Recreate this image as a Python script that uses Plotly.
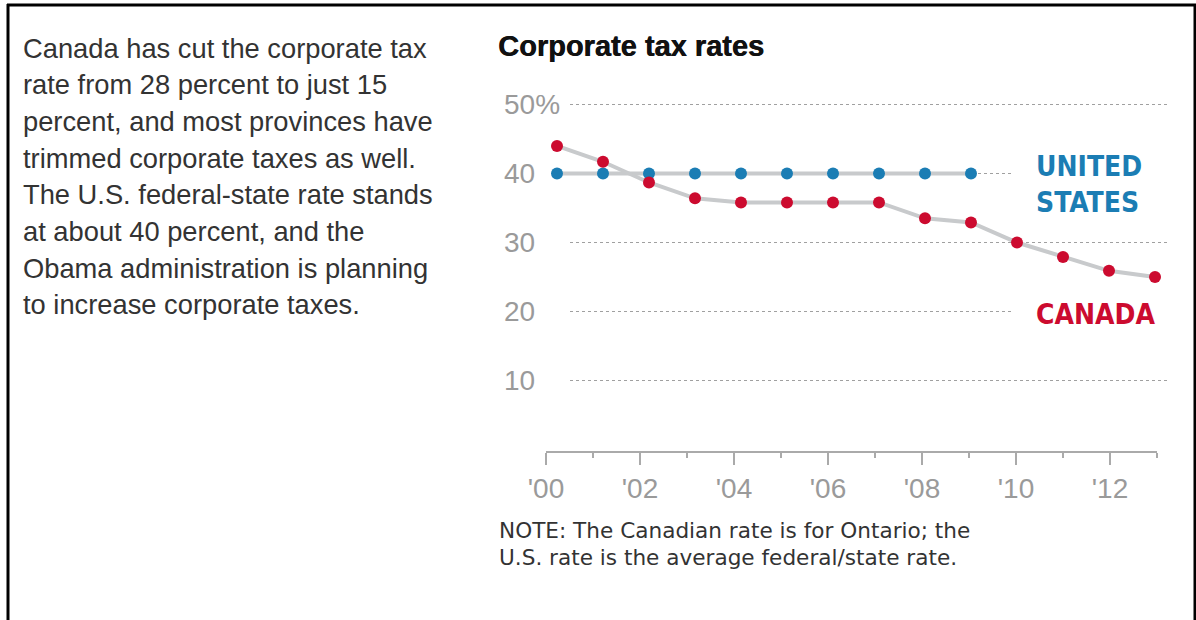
import plotly.graph_objects as go

# ---------------- data ----------------
years_canada = [2000, 2001, 2002, 2003, 2004, 2005, 2006, 2007, 2008, 2009, 2010, 2011, 2012, 2013]
canada_rate = [44.0, 41.7, 38.7, 36.4, 35.8, 35.8, 35.8, 35.8, 33.5, 32.9, 30.0, 27.9, 25.9, 25.0]
years_us = [2000, 2001, 2002, 2003, 2004, 2005, 2006, 2007, 2008, 2009]
us_rate = [40, 40, 40, 40, 40, 40, 40, 40, 40, 40]

x_tickvals = [2000, 2002, 2004, 2006, 2008, 2010, 2012]
x_ticktext = ["'00", "'02", "'04", "'06", "'08", "'10", "'12"]
x_minor = [2000, 2001, 2002, 2003, 2004, 2005, 2006, 2007, 2008, 2009, 2010, 2011, 2012, 2013]
y_tickvals = [10, 20, 30, 40, 50]
y_ticktext = ["10", "20", "30", "40", "50%"]
grid_short = [20, 40]  # gridlines that stop before the series labels

body_lines = [
    "Canada has cut the corporate tax",
    "rate from 28 percent to just 15",
    "percent, and most provinces have",
    "trimmed corporate taxes as well.",
    "The U.S. federal-state rate stands",
    "at about 40 percent, and the",
    "Obama administration is planning",
    "to increase corporate taxes.",
]
note_lines = [
    "NOTE: The Canadian rate is for Ontario; the",
    "U.S. rate is the average federal/state rate.",
]
title_text = "Corporate tax rates"

# ---------------- layout geometry (pixels) ----------------
W, H = 1196, 620
PL, PR = 505, 1170      # plot area left/right
PT, PB = 70, 451        # plot area top/bottom
Y0PX, PXPU = 449.5, 6.9  # pixel row of value 0, pixels per unit


def px_x(p):
    return (p - PL) / (PR - PL)


def px_y(p):
    return (PB - p) / (PB - PT)


RED = "#cc0b2f"
BLUE = "#1b7db4"
GRAYLINE = "#c8cacc"
TICKGRAY = "#9a9a9a"
TEXT = "#333333"

fig = go.Figure()

# empty trace so the visible tick axis subplot exists
fig.add_trace(go.Scatter(x=[], y=[], xaxis="x", yaxis="y", mode="markers",
                         hoverinfo="skip", showlegend=False))
# connecting lines
fig.add_trace(go.Scatter(x=years_us, y=us_rate, mode="lines", xaxis="x2", yaxis="y",
                         line=dict(color=GRAYLINE, width=4), hoverinfo="skip", showlegend=False))
fig.add_trace(go.Scatter(x=years_canada, y=canada_rate, mode="lines", xaxis="x2", yaxis="y",
                         line=dict(color=GRAYLINE, width=4), hoverinfo="skip", showlegend=False))
# markers
fig.add_trace(go.Scatter(x=years_us, y=us_rate, mode="markers", xaxis="x2", yaxis="y",
                         marker=dict(color=BLUE, size=12), cliponaxis=False,
                         name="United States", showlegend=False))
fig.add_trace(go.Scatter(x=years_canada, y=canada_rate, mode="markers", xaxis="x2", yaxis="y",
                         marker=dict(color=RED, size=12), cliponaxis=False,
                         name="Canada", showlegend=False))

shapes = []
# dotted gridlines
for v in y_tickvals:
    x1 = px_x(1012) if v in grid_short else px_x(1168)
    shapes.append(dict(type="line", xref="paper", yref="y", x0=px_x(570), x1=x1, y0=v, y1=v,
                       line=dict(color="#a0a0a0", width=1.2, dash="3px,3px"), layer="below"))
# page border (left, top, right)
shapes.append(dict(type="line", xref="paper", yref="paper", x0=px_x(8), x1=px_x(8),
                   y0=px_y(4), y1=px_y(640), line=dict(color="black", width=3)))
shapes.append(dict(type="line", xref="paper", yref="paper", x0=px_x(7), x1=px_x(1196),
                   y0=px_y(5), y1=px_y(5), line=dict(color="black", width=3)))
shapes.append(dict(type="line", xref="paper", yref="paper", x0=px_x(1195), x1=px_x(1195),
                   y0=px_y(4), y1=px_y(640), line=dict(color="black", width=3)))

annotations = []
# body text
for i, t in enumerate(body_lines):
    annotations.append(dict(text=t, xref="paper", yref="paper", x=px_x(21), y=px_y(48 + i * 36.7),
                            xanchor="left", yanchor="middle", showarrow=False,
                            font=dict(family="Liberation Sans, Arial, sans-serif", size=27.3, color=TEXT)))
# title
annotations.append(dict(text="<b>" + title_text + "</b>", xref="paper", yref="paper", x=px_x(496), y=px_y(46),
                        xanchor="left", yanchor="middle", showarrow=False,
                        font=dict(family="Liberation Sans, Arial, sans-serif", size=29, color="#111111",
                                  shadow="0.6px 0px 0px #111111")))
# series labels
for t, yy, c in [("UNITED", 166, BLUE), ("STATES", 202, BLUE), ("CANADA", 314, RED)]:
    annotations.append(dict(text="<b>" + t + "</b>", xref="paper", yref="paper", x=px_x(1034), y=px_y(yy),
                            xanchor="left", yanchor="middle", showarrow=False,
                            font=dict(family="Liberation Sans Narrow, DejaVu Sans Condensed, Arial Narrow, sans-serif",
                                      size=28, color=c)))
# note
for i, t in enumerate(note_lines):
    annotations.append(dict(text=t, xref="paper", yref="paper", x=px_x(497), y=px_y(530 + i * 27),
                            xanchor="left", yanchor="middle", showarrow=False,
                            font=dict(family="DejaVu Sans, sans-serif", size=21.6, color=TEXT)))

TICK_L, TICK_PPY = 546.0, 47.0   # tick axis: year 2000 pixel, pixels per year
TICK_R = TICK_L + 13 * TICK_PPY
DATA0, PPY = 557.0, 46.0         # data axis: year 2000 pixel, pixels per year

fig.update_layout(
    width=W, height=H,
    margin=dict(l=PL, r=W - PR, t=PT, b=H - PB, pad=0),
    paper_bgcolor="white", plot_bgcolor="white",
    showlegend=False,
    xaxis=dict(
        domain=[px_x(TICK_L - 0.5), px_x(TICK_R)], range=[2000 - 0.5 / TICK_PPY, 2013], anchor="y",
        tickmode="array", tickvals=x_tickvals, ticktext=x_ticktext,
        ticks="outside", ticklen=12, tickwidth=1.5, tickcolor="#aaaaaa",
        showline=True, linecolor="#aaaaaa", linewidth=1.5,
        showgrid=False, zeroline=False, ticklabeloverflow="allow",
        minor=dict(tickmode="array", tickvals=x_minor, ticks="outside", ticklen=5,
                   tickwidth=1.5, tickcolor="#aaaaaa", showgrid=False),
        tickfont=dict(family="Liberation Sans, Arial, sans-serif", size=28, color=TICKGRAY),
        fixedrange=True,
    ),
    xaxis2=dict(
        range=[2000 - (DATA0 - (TICK_L - 0.5)) / PPY, 2000 + (TICK_R - DATA0) / PPY],
        anchor="y", overlaying="x", visible=False, fixedrange=True,
    ),
    yaxis=dict(
        range=[(Y0PX - PB) / PXPU, (Y0PX - PT) / PXPU],
        anchor="free", position=0, side="right",
        tickmode="array", tickvals=y_tickvals, ticktext=y_ticktext,
        ticklabelposition="outside", ticklabelstandoff=-2, ticks="",
        showline=False, showgrid=False, zeroline=False, automargin=False,
        tickfont=dict(family="Liberation Sans, Arial, sans-serif", size=28, color=TICKGRAY),
        fixedrange=True,
    ),
    shapes=shapes,
    annotations=annotations,
)

fig.write_html("out.html")
